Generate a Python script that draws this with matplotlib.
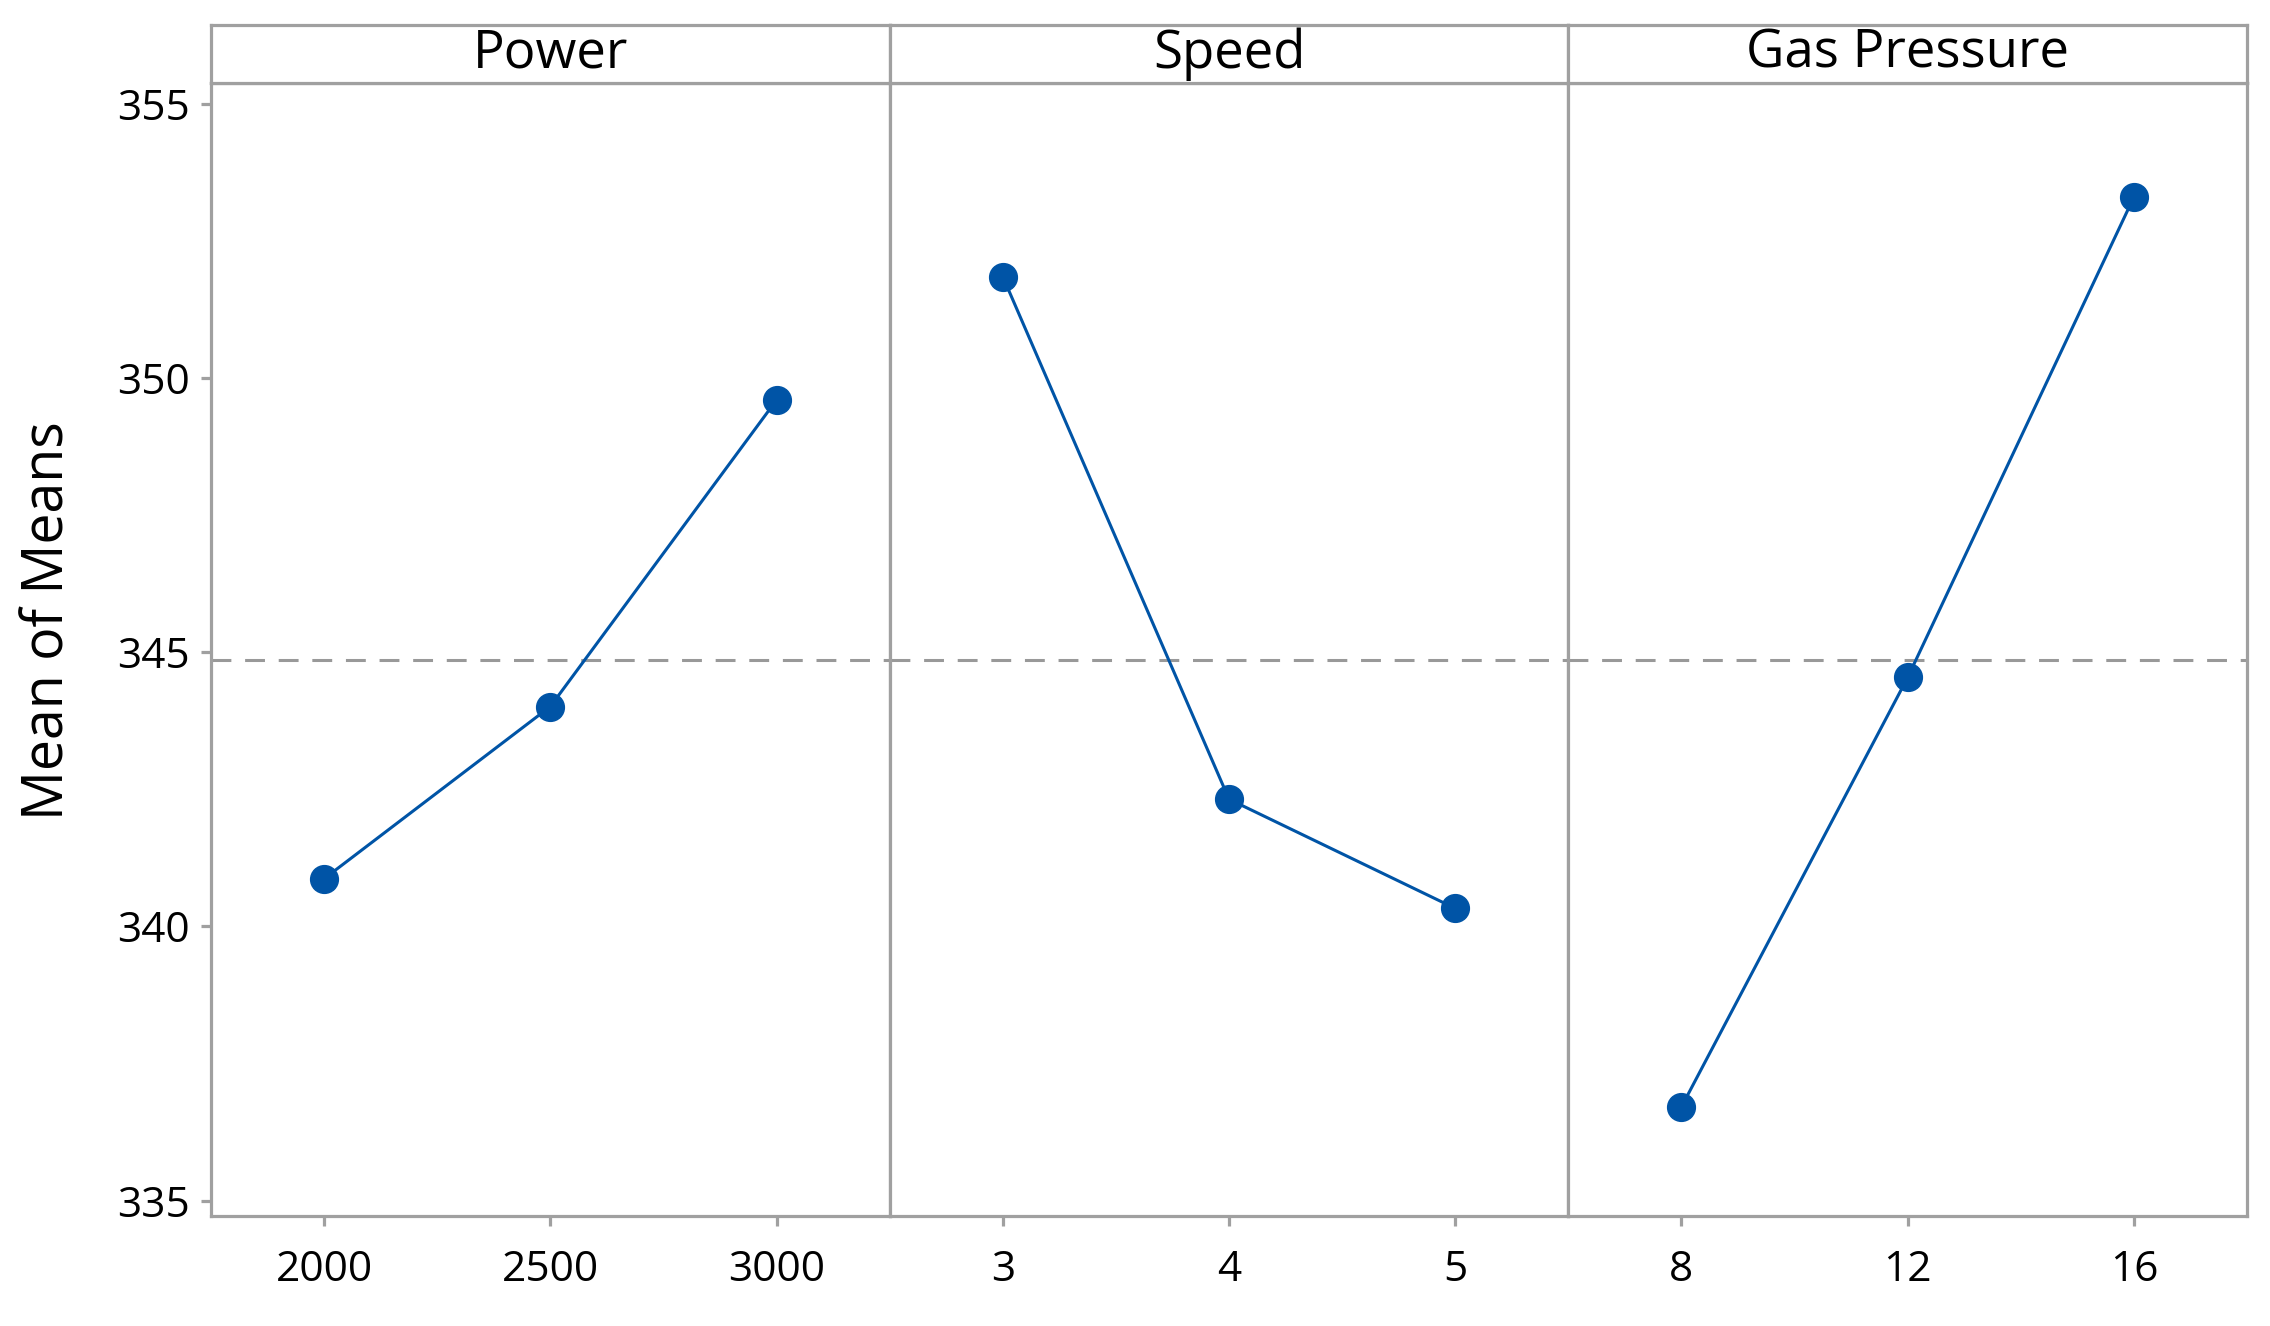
import matplotlib
matplotlib.use("Agg")
import matplotlib.pyplot as plt

plt.rcParams['font.family'] = ['Open Sans', 'DejaVu Sans']

# ---- data ----
factors = ["Power", "Speed", "Gas Pressure"]
power_levels = [2000, 2500, 3000]
power_means = [340.87, 344.01, 349.60]
speed_levels = [3, 4, 5]
speed_means = [351.85, 342.32, 340.33]
gas_levels = [8, 12, 16]
gas_means = [336.71, 344.54, 353.30]
overall_mean = 344.85
y_ticks = [335, 340, 345, 350, 355]
y_limits = (334.72, 355.38)

levels = [power_levels, speed_levels, gas_levels]
means = [power_means, speed_means, gas_means]

W, H = 2270, 1326
DPI = 100
fig = plt.figure(figsize=(W / DPI, H / DPI), dpi=DPI)

frame_col = '#a0a0a0'
line_col = '#0054A6'
left_px, right_px = 211, 2247
top_px, strip_bot_px, bot_px = 25, 83, 1216
pw = (right_px - left_px) / 3

tick_fs = 30.5
for i in range(3):
    x0 = (left_px + i * pw) / W
    ax = fig.add_axes([x0, (H - bot_px) / H, pw / W, (bot_px - strip_bot_px) / H])
    lv = levels[i]
    span = lv[-1] - lv[0]
    ax.set_xlim(lv[0] - span / 4, lv[-1] + span / 4)
    ax.set_ylim(*y_limits)
    ax.axhline(overall_mean, color='#999999', lw=2.2, dashes=(6.5, 4.5), zorder=1)
    ax.plot(lv, means[i], color=line_col, lw=2.2, marker='o', markersize=20,
            markerfacecolor=line_col, markeredgecolor=line_col, zorder=3)
    ax.set_xticks(lv)
    ax.set_xticklabels([str(v) for v in lv])
    for s in ax.spines.values():
        s.set_color(frame_col)
        s.set_linewidth(2.3)
    ax.tick_params(axis='x', direction='out', length=7, width=2.3, color=frame_col,
                   labelsize=tick_fs, pad=17)
    if i == 0:
        ax.set_yticks(y_ticks)
        ax.tick_params(axis='y', direction='out', length=7, width=2.3, color=frame_col,
                       labelsize=tick_fs, pad=8)
    else:
        ax.set_yticks([])
    # strip
    sax = fig.add_axes([x0, (H - strip_bot_px) / H, pw / W, (strip_bot_px - top_px) / H])
    sax.set_xticks([])
    sax.set_yticks([])
    for s in sax.spines.values():
        s.set_color(frame_col)
        s.set_linewidth(2.3)
    sax.text(0.5, 0.5, factors[i], ha='center', va='center', fontsize=38,
             transform=sax.transAxes)

fig.text(49 / W, 1 - 621 / H, "Mean of Means", rotation=90, ha='center', va='center',
         fontsize=40)

fig.savefig("out.png", dpi=DPI)
